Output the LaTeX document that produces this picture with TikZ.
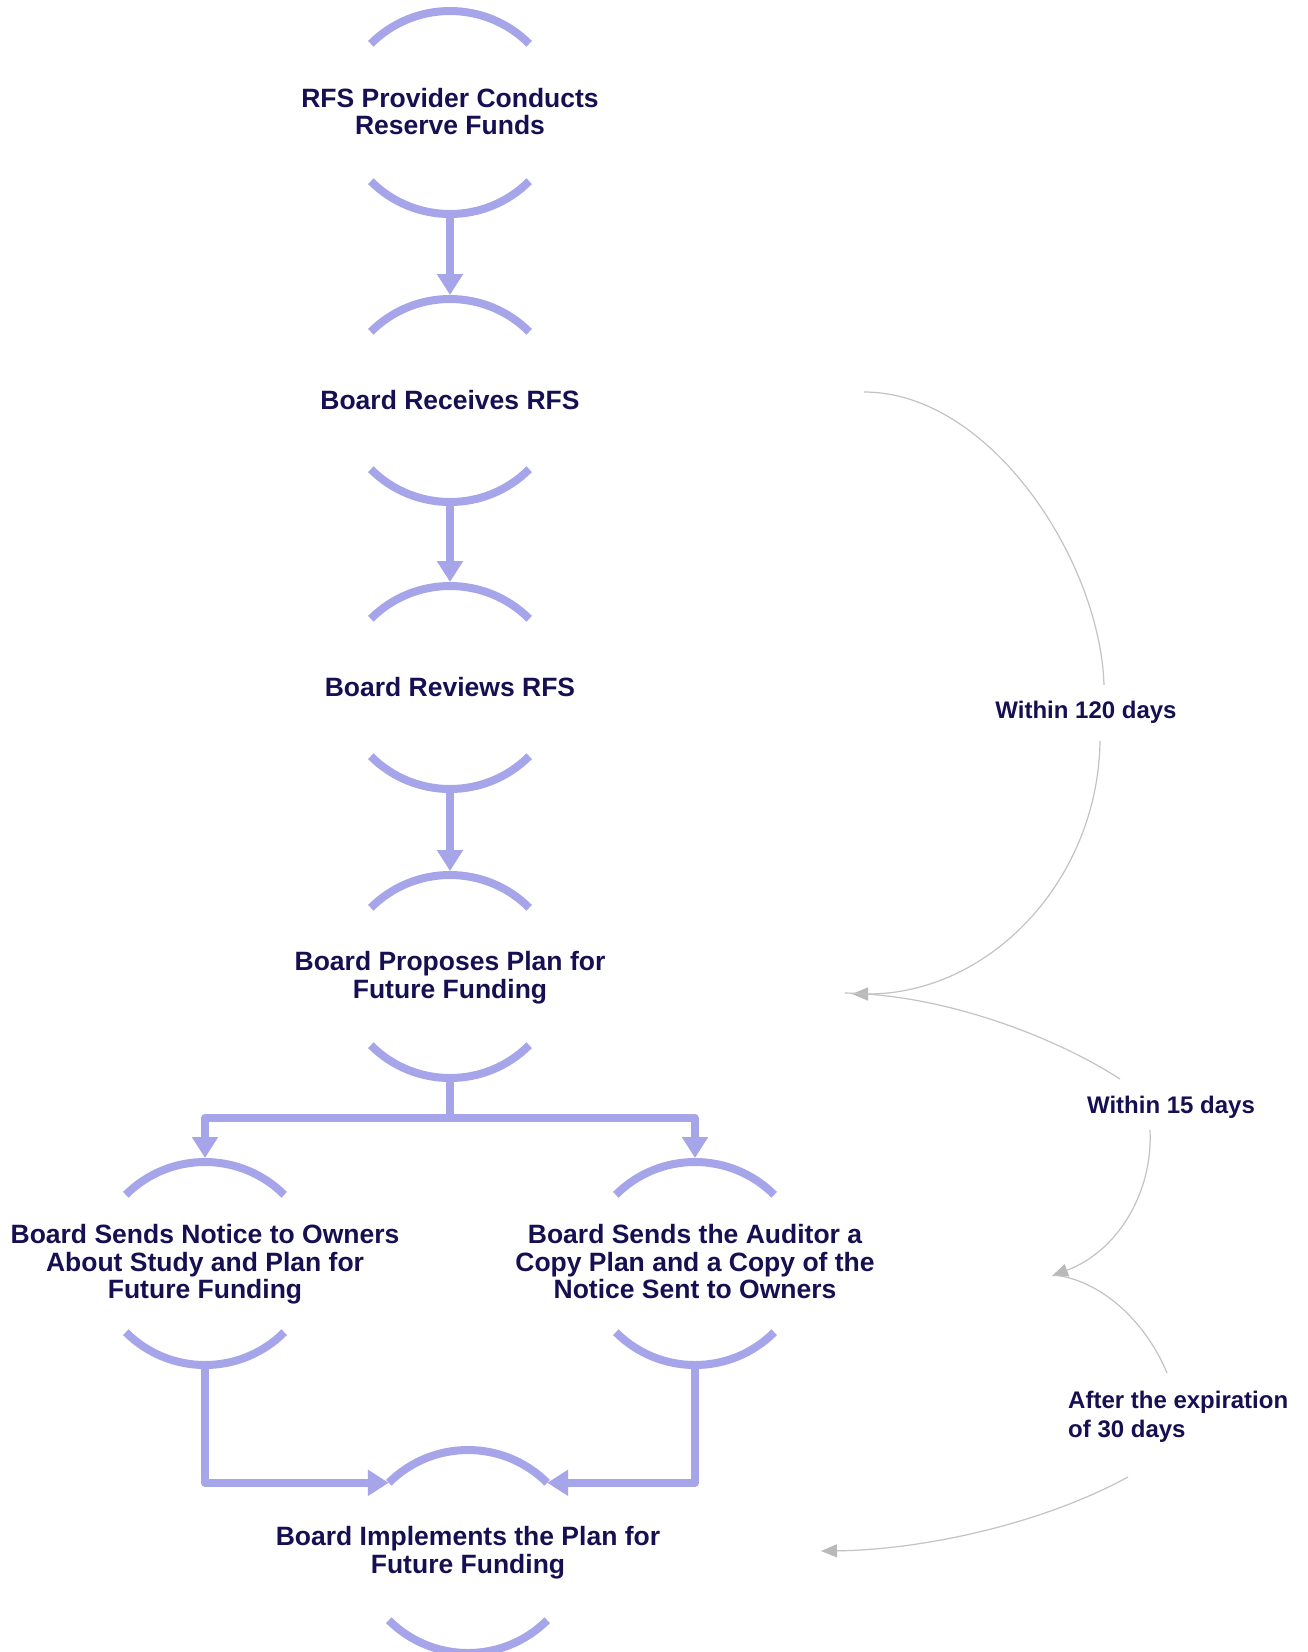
\documentclass[tikz,border=0pt]{standalone}
\usepackage{fontspec}
\setmainfont{Liberation Sans}
\usetikzlibrary{arrows.meta}
\definecolor{fpurple}{RGB}{167,165,233}
\definecolor{ftextc}{RGB}{22,16,82}
\definecolor{fgray}{RGB}{195,195,195}
\definecolor{fgrayd}{RGB}{185,185,185}
\tikzset{
  ftext/.style={font=\bfseries\fontsize{26.5}{27.5}\selectfont, text=ftextc, align=center, inner sep=0pt},
  farc/.style={draw=fpurple, line width=8pt},
  fconn/.style={draw=fpurple, line width=8pt, line join=round, -{Triangle[length=21pt,width=25pt]}},
  glabel/.style={font=\bfseries\fontsize{24}{29}\selectfont, text=ftextc, inner sep=0pt},
  gline/.style={draw=fgray, line width=1.2pt},
  gconn/.style={draw=fgray, line width=1.2pt, -{Triangle[length=16pt,width=13pt,color=fgrayd]}},
}
% #1 name, #2 x, #3 y (downwards), #4 text offset, #5 text
\newcommand{\fnode}[5]{%
  \node[ftext] (#1) at (#2,{-#3-#4}) {#5};
  \coordinate (#1-t) at (#2,{-#3+101});
  \coordinate (#1-b) at (#2,{-#3-102});
  \coordinate (#1-tl) at ({#2-79.2},{-#3+68.2});
  \coordinate (#1-tr) at ({#2+79.2},{-#3+68.2});
  \coordinate (#1-bl) at ({#2-79.2},{-#3-69.2});
  \draw[farc] (#1-tl) arc[start angle=135,end angle=45,radius=112];
  \draw[farc] (#1-bl) arc[start angle=225,end angle=315,radius=112];
}
\begin{document}
\begin{tikzpicture}[x=1pt,y=1pt]
\useasboundingbox (0,0) rectangle (1308,-1652);
\fill[white] (0,0) rectangle (1308,-1652);

\fnode{n1}{450}{112}{-0.5}{RFS Provider Conducts\\Reserve Funds}
\fnode{n2}{450}{400}{0.5}{Board Receives RFS}
\fnode{n3}{450}{687}{0.5}{Board Reviews RFS}
\fnode{n4}{450}{976}{1.5}{Board Proposes Plan for\\Future Funding}
\fnode{n5}{205}{1263}{1.5}{Board Sends Notice to Owners\\About Study and Plan for\\Future Funding}
\fnode{n6}{695}{1263}{-1}{Board Sends the Auditor a\\Copy Plan and a Copy of the\\Notice Sent to Owners}
\fnode{n7}{468}{1551}{1.5}{Board Implements the Plan for\\Future Funding}

\draw[fconn] (n1-b) -- ([yshift=4pt]n2-t);
\draw[fconn] (n2-b) -- ([yshift=4pt]n3-t);
\draw[fconn] (n3-b) -- ([yshift=4pt]n4-t);
\coordinate (br) at (450,-1118);
\draw[fconn] (n4-b) -- (br) -| ([yshift=4pt]n5-t);
\draw[fconn] (br) -| ([yshift=4pt]n6-t);
\draw[fconn] (n5-b) |- (n7-tl);
\draw[fconn] (n6-b) |- (n7-tr);

% gray timing connectors
\node[glabel] (l1) at (1086,-712) {Within 120 days};
\node[glabel] (l2) at (1171,-1107) {Within 15 days};
\node[glabel, align=left, anchor=west] (l3) at (1068,-1417) {After the expiration\\of 30 days};

\coordinate (g1s) at (864,-392);
\coordinate (g1a) at (1104,-685);
\coordinate (g1b) at (1100,-741);
\coordinate (g1e) at (852,-994);
\draw[gline] (g1s) .. controls (990,-392) and (1100,-560) .. (g1a);
\draw[gconn] (g1b) .. controls (1098,-880) and (990,-994) .. (g1e);

\coordinate (g2s) at (845,-993);
\coordinate (g2a) at (1120,-1079);
\coordinate (g2b) at (1150,-1130);
\coordinate (g2e) at (1052,-1276);
\draw[gline] (g2s) .. controls (950,-995) and (1060,-1040) .. (g2a);
\draw[gconn] (g2b) .. controls (1153,-1190) and (1120,-1250) .. (g2e);

\coordinate (g3s) at (1054,-1275);
\coordinate (g3a) at (1167,-1373);
\coordinate (g3b) at (1128,-1477);
\coordinate (g3e) at (821,-1551);
\draw[gline] (g3s) .. controls (1100,-1280) and (1145,-1320) .. (g3a);
\draw[gconn] (g3b) .. controls (1040,-1525) and (920,-1550) .. (g3e);
\end{tikzpicture}
\end{document}
